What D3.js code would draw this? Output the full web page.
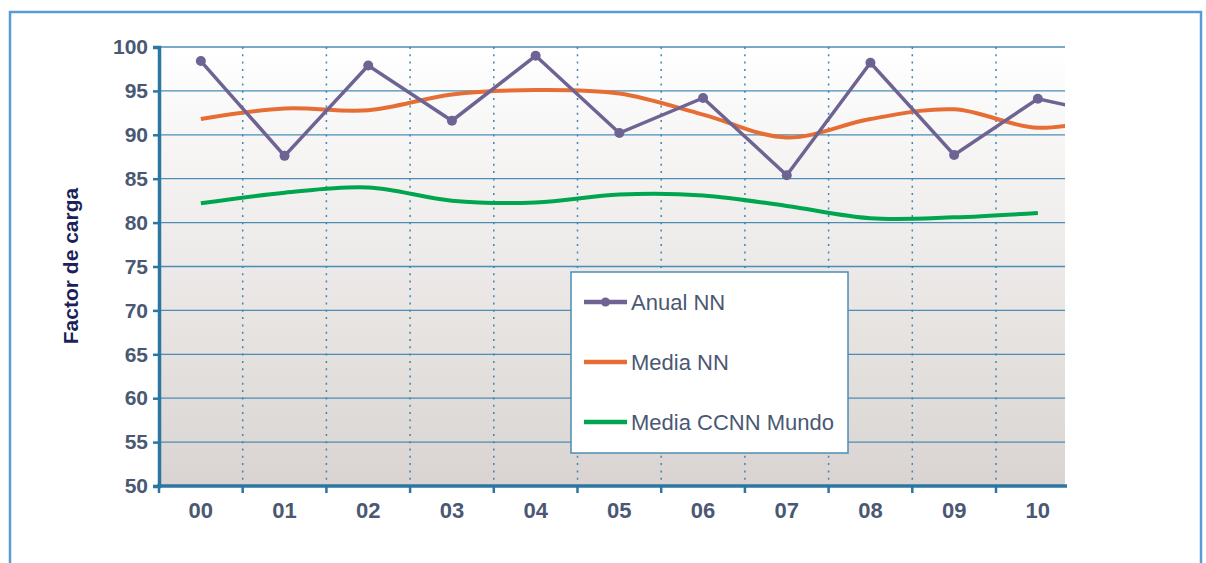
<!DOCTYPE html>
<html>
<head>
<meta charset="utf-8">
<script src="https://cdn.jsdelivr.net/npm/d3@7"></script>
<style>
  body { margin: 0; background: #fff; }
  text { font-family: "Liberation Sans", Arial, sans-serif; }
</style>
</head>
<body>
<script>
// categories (the 12th year is cut off by the plot edge, as in the original)
var years = ['00', '01', '02', '03', '04', '05', '06', '07', '08', '09', '10', '11'];

// series values
var anualNN = [98.4, 87.6, 97.9, 91.6, 99.0, 90.2, 94.2, 85.4, 98.2, 87.7, 94.1, 92.0];
var mediaNN = [91.8, 93.0, 92.8, 94.6, 95.1, 94.7, 92.3, 89.7, 91.8, 92.9, 90.8, 92.2];
var mediaMundo = [82.2, 83.4, 84.0, 82.5, 82.3, 83.2, 83.1, 81.9, 80.5, 80.6, 81.1];

var yTicks = [50, 55, 60, 65, 70, 75, 80, 85, 90, 95, 100];
var xLabels = years.slice(0, 11);

var seriesNames = ['Anual NN', 'Media NN', 'Media CCNN Mundo'];
var seriesColors = ['#6e6393', '#e66e35', '#00a54f'];

var W = 1206, H = 563;
var pLeft = 159, pTop = 47, pRight = 1065, pBottom = 486;

var svg = d3.select('body').append('svg')
    .attr('width', W)
    .attr('height', H);

// outer frame
svg.append('rect')
    .attr('x', 10).attr('y', 12)
    .attr('width', 1191).attr('height', 570)
    .attr('fill', '#fff')
    .attr('stroke', '#5b9bd5')
    .attr('stroke-width', 2.5);

var x = d3.scaleBand().domain(years).range([pLeft, pLeft + 83.7 * years.length]).padding(0);
var y = d3.scaleLinear().domain([50, 100]).range([pBottom, pTop]);

var defs = svg.append('defs');
var grad = defs.append('linearGradient')
    .attr('id', 'bg').attr('x1', 0).attr('y1', 0).attr('x2', 0).attr('y2', 1);
grad.append('stop').attr('offset', '0%').attr('stop-color', '#ffffff');
grad.append('stop').attr('offset', '100%').attr('stop-color', '#d9d4d1');

defs.append('clipPath').attr('id', 'clip')
  .append('rect')
    .attr('x', pLeft).attr('y', pTop - 10)
    .attr('width', pRight - pLeft).attr('height', pBottom - pTop + 10);

svg.append('rect')
    .attr('x', pLeft).attr('y', pTop)
    .attr('width', pRight - pLeft).attr('height', pBottom - pTop)
    .attr('fill', 'url(#bg)');

// horizontal grid
svg.append('g').selectAll('line')
    .data(yTicks.filter(function (d) { return d > 50; }))
    .enter().append('line')
    .attr('x1', pLeft).attr('x2', pRight)
    .attr('y1', function (d) { return y(d); })
    .attr('y2', function (d) { return y(d); })
    .attr('stroke', '#4b8db4')
    .attr('stroke-width', 1.3);

// vertical dotted grid at band boundaries
var bounds = years.slice(1).map(function (d) { return x(d); })
    .filter(function (v) { return v < pRight; });

svg.append('g').selectAll('line')
    .data(bounds)
    .enter().append('line')
    .attr('x1', function (d) { return d; })
    .attr('x2', function (d) { return d; })
    .attr('y1', pTop).attr('y2', pBottom)
    .attr('stroke', '#3f86b0')
    .attr('stroke-width', 1.5)
    .attr('stroke-dasharray', '2,5.3');

// y axis
var yAxis = svg.append('g')
    .attr('transform', 'translate(' + pLeft + ',0)')
    .call(d3.axisLeft(y).tickValues(yTicks).tickSize(6).tickPadding(5));
yAxis.select('.domain').attr('stroke', '#2b77a1').attr('stroke-width', 3.5);
yAxis.selectAll('.tick line').attr('stroke', '#2b77a1').attr('stroke-width', 2.5);
yAxis.selectAll('.tick text')
    .attr('fill', '#4a5873')
    .attr('font-size', '21px')
    .attr('font-weight', 'bold');

// x axis line and ticks
svg.append('line')
    .attr('x1', pLeft - 2).attr('x2', pRight + 2)
    .attr('y1', pBottom).attr('y2', pBottom)
    .attr('stroke', '#2b77a1')
    .attr('stroke-width', 3.5);

svg.append('g').selectAll('line')
    .data([pLeft].concat(bounds))
    .enter().append('line')
    .attr('x1', function (d) { return d; })
    .attr('x2', function (d) { return d; })
    .attr('y1', pBottom).attr('y2', pBottom + 7)
    .attr('stroke', '#2b77a1')
    .attr('stroke-width', 2.5);

svg.append('g').selectAll('text')
    .data(xLabels)
    .enter().append('text')
    .attr('x', function (d) { return x(d) + x.bandwidth() / 2; })
    .attr('y', 518)
    .attr('text-anchor', 'middle')
    .attr('fill', '#4a5873')
    .attr('font-size', '22px')
    .attr('font-weight', 'bold')
    .text(function (d) { return d; });

// y title
svg.append('text')
    .attr('transform', 'translate(78,266) rotate(-90)')
    .attr('text-anchor', 'middle')
    .attr('fill', '#1b1f5a')
    .attr('font-size', '21px')
    .attr('font-weight', 'bold')
    .text('Factor de carga');

// lines
var plot = svg.append('g').attr('clip-path', 'url(#clip)');

function cx(i) { return x(years[i]) + x.bandwidth() / 2; }

var straight = d3.line()
    .x(function (d, i) { return cx(i); })
    .y(function (d) { return y(d); });

var smooth = d3.line()
    .x(function (d, i) { return cx(i); })
    .y(function (d) { return y(d); })
    .curve(d3.curveCatmullRom.alpha(0.5));

plot.append('path')
    .datum(mediaMundo)
    .attr('fill', 'none')
    .attr('stroke', seriesColors[2])
    .attr('stroke-width', 4)
    .attr('d', smooth);

plot.append('path')
    .datum(mediaNN)
    .attr('fill', 'none')
    .attr('stroke', seriesColors[1])
    .attr('stroke-width', 4)
    .attr('d', smooth);

plot.append('path')
    .datum(anualNN)
    .attr('fill', 'none')
    .attr('stroke', seriesColors[0])
    .attr('stroke-width', 3.5)
    .attr('d', straight);

plot.selectAll('.pt')
    .data(anualNN)
    .enter().append('circle')
    .attr('class', 'pt')
    .attr('cx', function (d, i) { return cx(i); })
    .attr('cy', function (d) { return y(d); })
    .attr('r', 5)
    .attr('fill', seriesColors[0]);

// legend
var lg = svg.append('g').attr('transform', 'translate(571,272)');
lg.append('rect')
    .attr('width', 277).attr('height', 181)
    .attr('fill', '#fff')
    .attr('stroke', '#4b8db4')
    .attr('stroke-width', 1.5);

var item = lg.selectAll('.item')
    .data(seriesNames)
    .enter().append('g')
    .attr('transform', function (d, i) { return 'translate(13,' + (30 + i * 60) + ')'; });

item.append('line')
    .attr('x1', 0).attr('x2', 43)
    .attr('stroke', function (d, i) { return seriesColors[i]; })
    .attr('stroke-width', 4.5);

item.filter(function (d, i) { return i === 0; })
  .append('circle')
    .attr('cx', 21.5).attr('r', 4.5)
    .attr('fill', seriesColors[0]);

item.append('text')
    .attr('x', 47)
    .attr('dy', '0.35em')
    .attr('fill', '#4a5873')
    .attr('font-size', '22px')
    .text(function (d) { return d; });
</script>
</body>
</html>
